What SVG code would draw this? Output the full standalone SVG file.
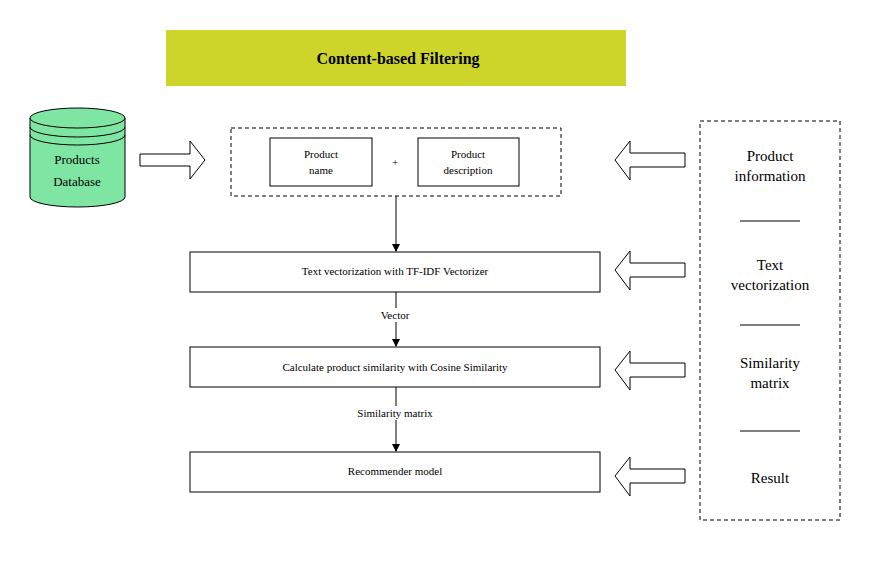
<svg xmlns="http://www.w3.org/2000/svg" width="881" height="561" viewBox="0 0 881 561">
<defs>
<style>
text{font-family:"Liberation Serif",serif;fill:#000;text-anchor:middle}
.b{fill:#fff;stroke:#000;stroke-width:1}
.d{fill:none;stroke:#000;stroke-dasharray:4,3}
.a{fill:#fff;stroke:#000;stroke-width:1}
.s{font-size:11px}
.m{font-size:15px}
</style>
<marker id="ah" markerWidth="8" markerHeight="8" refX="7" refY="4" orient="auto" markerUnits="userSpaceOnUse"><path d="M0,0 L8,4 L0,8 Z" fill="#000"/></marker>
</defs>
<rect width="881" height="561" fill="#fff"/>
<g id="title"><rect x="166" y="30" width="460" height="56" fill="#cdd42a"/><text x="398" y="64" font-size="16" font-weight="bold">Content-based Filtering</text></g>
<g id="db">
<path d="M30,118 V197 A47.5,10 0 0 0 125,197 V118" fill="#7ee5a2" stroke="#000"/>
<ellipse cx="77.5" cy="118" rx="47.5" ry="10" fill="#7ee5a2" stroke="#000"/>
<path d="M30,127 A47.5,10 0 0 0 125,127 M30,135 A47.5,10 0 0 0 125,135" fill="none" stroke="#000"/>
<text x="77" y="164" font-size="13">Products</text><text x="77" y="186" font-size="13">Database</text>
</g>
<g id="input">
<rect class="d" x="231" y="128" width="330" height="68"/>
<rect class="b" x="270" y="138" width="102" height="48"/>
<text class="s" x="321" y="158">Product</text><text class="s" x="321" y="174">name</text>
<text class="s" x="395" y="166">+</text>
<rect class="b" x="418" y="138" width="101" height="48"/>
<text class="s" x="468" y="158">Product</text><text class="s" x="468" y="174">description</text>
</g>
<g id="tfidf"><rect class="b" x="190" y="252" width="410" height="40"/><text class="s" x="395" y="275">Text vectorization with TF-IDF Vectorizer</text></g>
<g id="cos"><rect class="b" x="190" y="347" width="410" height="40"/><text class="s" x="395" y="371">Calculate product similarity with Cosine Similarity</text></g>
<g id="rec"><rect class="b" x="190" y="452" width="410" height="40"/><text class="s" x="395" y="475">Recommender model</text></g>
<g id="legend">
<rect class="d" x="700" y="121" width="140" height="399" stroke-dasharray="8,5"/>
<text class="m" x="770" y="161">Product</text><text class="m" x="770" y="181">information</text>
<line x1="740" y1="221" x2="800" y2="221" stroke="#000"/>
<text class="m" x="770" y="270">Text</text><text class="m" x="770" y="290">vectorization</text>
<line x1="740" y1="325" x2="800" y2="325" stroke="#000"/>
<text class="m" x="770" y="368">Similarity</text><text class="m" x="770" y="388">matrix</text>
<line x1="740" y1="431" x2="800" y2="431" stroke="#000"/>
<text class="m" x="770" y="483">Result</text>
</g>
<g id="connectors">
<path class="a" d="M140,154 H190 V141 L205,160 L190,179 V166 H140 Z"/>
<path class="a" d="M685,153 H630 V141 L615,160 L630,180 V167 H685 Z"/>
<path class="a" d="M685,263 H630 V251 L615,270 L630,290 V277 H685 Z"/>
<path class="a" d="M685,363 H630 V351 L615,370 L630,390 V377 H685 Z"/>
<path class="a" d="M685,469 H630 V457 L615,476 L630,496 V483 H685 Z"/>
<line x1="396" y1="196" x2="396" y2="251" stroke="#000" marker-end="url(#ah)"/>
<line x1="396" y1="292" x2="396" y2="346" stroke="#000" marker-end="url(#ah)"/>
<line x1="396" y1="387" x2="396" y2="451" stroke="#000" marker-end="url(#ah)"/>
<rect x="370" y="308" width="52" height="14" fill="#fff"/>
<text class="s" x="395" y="319">Vector</text>
<rect x="350" y="406" width="92" height="14" fill="#fff"/>
<text class="s" x="395" y="417">Similarity matrix</text>
</g>
</svg>
